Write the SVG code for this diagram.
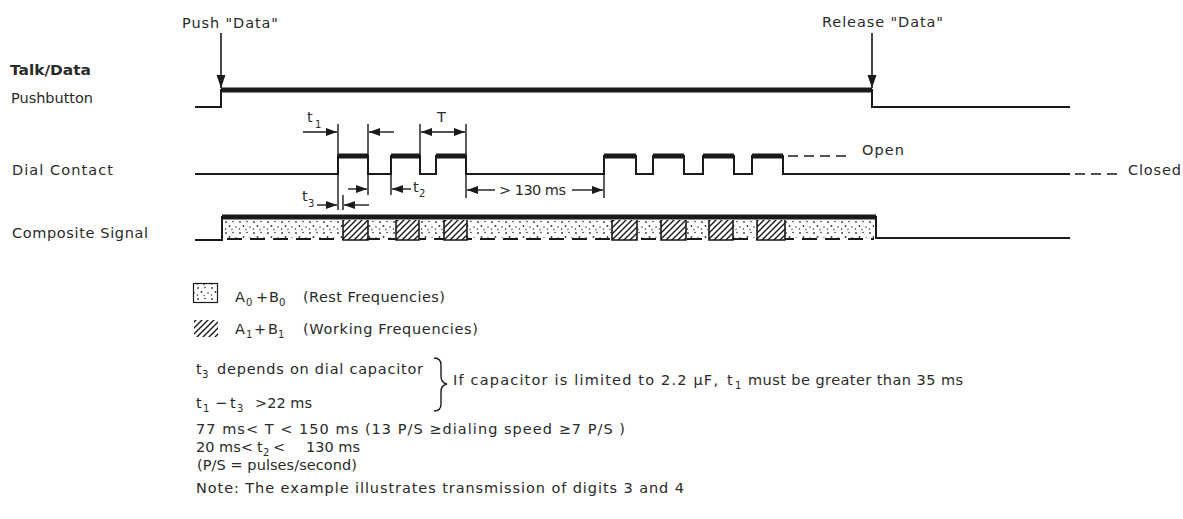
<svg xmlns="http://www.w3.org/2000/svg" width="1183" height="519" viewBox="0 0 1183 519">
<style>
text{font-family:"DejaVu Sans","Liberation Sans",sans-serif;font-size:14.5px;fill:#2a2a2a}
.sub{font-size:10px}
.bold{font-weight:bold}
.w{fill:none;stroke:#1a1a1a;stroke-width:2}
.thick{fill:none;stroke:#1a1a1a;stroke-width:5}
.tick{fill:none;stroke:#1a1a1a;stroke-width:1.4}
.arr{fill:none;stroke:#1a1a1a;stroke-width:1.4;marker-end:url(#ah)}
.big{fill:none;stroke:#1a1a1a;stroke-width:1.6;marker-end:url(#bh)}
.dash{fill:none;stroke:#1a1a1a;stroke-width:1.6;stroke-dasharray:10 6}
.hblk{fill:url(#hatch);stroke:none}
.hedge{fill:none;stroke:#1a1a1a;stroke-width:1.6}
</style>
<defs>
<marker id="ah" markerUnits="userSpaceOnUse" markerWidth="12" markerHeight="9" refX="11" refY="4" orient="auto-start-reverse">
<path d="M0,0 L11,4 L0,8 Z" fill="#1a1a1a"/>
</marker>
<marker id="bh" markerUnits="userSpaceOnUse" markerWidth="14" markerHeight="10" refX="13" refY="4.5" orient="auto">
<path d="M0,0 L13,4.5 L0,9 Z" fill="#1a1a1a"/>
</marker>
<pattern id="dots" patternUnits="userSpaceOnUse" width="14" height="11">
<rect width="14" height="11" fill="#fff"/>
<circle cx="2" cy="2" r="0.9" fill="#333"/>
<circle cx="9" cy="1.5" r="0.8" fill="#333"/>
<circle cx="5.5" cy="6" r="0.9" fill="#333"/>
<circle cx="12" cy="7" r="0.8" fill="#333"/>
<circle cx="1.5" cy="9" r="0.8" fill="#333"/>
<circle cx="8" cy="9.5" r="0.7" fill="#333"/>
</pattern>
<pattern id="hatch" patternUnits="userSpaceOnUse" width="6" height="6">
<rect width="6" height="6" fill="#fff"/>
<path d="M0,6 L6,0 M-1.5,1.5 L1.5,-1.5 M4.5,7.5 L7.5,4.5" stroke="#1a1a1a" stroke-width="1.4"/>
</pattern>
</defs>
<rect width="1183" height="519" fill="#fff"/>

<g id="labels">
<text x="182" y="28" textLength="96" lengthAdjust="spacing">Push "Data"</text>
<text x="822" y="27" textLength="121" lengthAdjust="spacing">Release "Data"</text>
<text class="bold" x="10" y="75" textLength="81" lengthAdjust="spacingAndGlyphs">Talk/Data</text>
<text x="11" y="103" textLength="82" lengthAdjust="spacing">Pushbutton</text>
<text x="12" y="175" textLength="101" lengthAdjust="spacing">Dial Contact</text>
<text x="12" y="238" textLength="136" lengthAdjust="spacing">Composite Signal</text>
</g>

<g id="pushbutton">
<path class="w" d="M195,107 H221 V90 H872 V107 H1070"/>
<path class="thick" d="M221,90 H872"/>
</g>

<g id="dial-contact">
<path class="w" d="M195,174 H338 V156 H368 V174 H391 V156 H420 V174 H436 V156 H466 V174 H604 V156 H636 V174 H653 V156 H684 V174 H703 V156 H734 V174 H752 V156 H783 V174 H1070"/>
<path class="thick" d="M338,156 H368 M391,156 H420 M436,156 H466 M604,156 H636 M653,156 H684 M703,156 H734 M752,156 H783"/>
<path class="dash" d="M788,156 H852"/>
<path class="dash" d="M1075,174 H1122"/>
<text x="862" y="155" textLength="42" lengthAdjust="spacing">Open</text>
<text x="1128" y="175" textLength="53" lengthAdjust="spacing">Closed</text>
</g>

<g id="composite-signal">
<rect x="224" y="220" width="650" height="18" fill="url(#dots)"/>
<path d="M227,239 H874" fill="none" stroke="#1a1a1a" stroke-width="1.8" stroke-dasharray="15 8"/>
<rect class="hblk" x="343" y="220" width="25" height="20"/>
<rect class="hblk" x="396" y="220" width="23" height="20"/>
<rect class="hblk" x="444" y="220" width="23" height="20"/>
<rect class="hblk" x="612" y="220" width="25" height="20"/>
<rect class="hblk" x="661" y="220" width="25" height="20"/>
<rect class="hblk" x="709" y="220" width="24" height="20"/>
<rect class="hblk" x="757" y="220" width="28" height="20"/>
<path class="hedge" d="M343,220 V240 H368 V220 M396,220 V240 H419 V220 M444,220 V240 H467 V220 M612,220 V240 H637 V220 M661,220 V240 H686 V220 M709,220 V240 H733 V220 M757,220 V240 H785 V220"/>
<path class="w" d="M195,240 H222 V217 H876 V238 H1070"/>
<path class="thick" d="M222,217 H876"/>
</g>

<g id="connectors">
<path class="big" d="M221,33 V88"/>
<path class="big" d="M872,33 V88"/>
<path class="tick" d="M338,124 V156 M338,174 V210 M368,124 V156 M368,174 V195 M420,124 V156 M466,124 V156 M466,174 V198 M343,195 V210 M391,174 V195 M604,174 V198"/>
<path class="arr" d="M303,132 H337"/>
<path class="arr" d="M394,132 H369"/>
<path class="arr" d="M421,132 H465" style="marker-start:url(#ah)"/>
<path class="arr" d="M317,205 H337"/>
<path class="arr" d="M369,205 H344"/>
<path class="arr" d="M348,189 H367"/>
<path class="arr" d="M411,189 H392"/>
<path class="arr" d="M495,190 H467"/>
<path class="arr" d="M572,190 H603"/>
</g>

<g id="annotations">
<text x="307" y="122">t<tspan class="sub" x="315" y="128">1</tspan></text>
<text x="437" y="122" font-size="15">T</text>
<text x="302" y="201">t<tspan class="sub" x="308" y="207">3</tspan></text>
<text x="413" y="192">t<tspan class="sub" x="419" y="197">2</tspan></text>
<text x="499" y="195" textLength="67" lengthAdjust="spacing">&gt; 130 ms</text>
</g>

<g id="legend">
<rect x="193.5" y="283.5" width="24" height="19" fill="url(#dots)" stroke="#1a1a1a" stroke-width="1.2"/>
<rect x="194" y="320" width="24" height="17" fill="url(#hatch)"/>
<text x="235" y="302">A<tspan class="sub" x="246" y="306">0</tspan><tspan x="256" y="302">+</tspan><tspan x="269" y="302">B</tspan><tspan class="sub" x="279" y="306">0</tspan></text>
<text x="303" y="302" textLength="142" lengthAdjust="spacing">(Rest Frequencies)</text>
<text x="235" y="334">A<tspan class="sub" x="246" y="338">1</tspan><tspan x="254" y="334">+</tspan><tspan x="268" y="334">B</tspan><tspan class="sub" x="278" y="338">1</tspan></text>
<text x="303" y="334" textLength="175" lengthAdjust="spacing">(Working Frequencies)</text>
</g>

<g id="notes">
<text x="196" y="374">t<tspan class="sub" x="202" y="378">3</tspan></text>
<text x="217" y="374" textLength="206" lengthAdjust="spacing">depends on dial capacitor</text>
<text x="196" y="408">t<tspan class="sub" x="203" y="412">1</tspan><tspan x="215" y="408">−</tspan><tspan x="230" y="408">t</tspan><tspan class="sub" x="237" y="412">3</tspan></text>
<text x="255" y="408" textLength="57" lengthAdjust="spacing">&gt;22 ms</text>
<path d="M434,358 Q441,358 441,365 V376 Q441,383 447,384 Q441,385 441,392 V404 Q441,411 434,411" fill="none" stroke="#1a1a1a" stroke-width="1.4"/>
<text x="453" y="385" textLength="265" lengthAdjust="spacing">If capacitor is limited to 2.2 μF,</text>
<text x="727" y="385">t<tspan class="sub" x="735" y="389">1</tspan></text>
<text x="748" y="385" textLength="215" lengthAdjust="spacing">must be greater than 35 ms</text>
<text x="196" y="434" textLength="429" lengthAdjust="spacing">77 ms&lt; T &lt;  150 ms (13 P/S  ≥dialing speed ≥7 P/S )</text>
<text x="196" y="452">20 ms&lt;<tspan x="257" y="452">t</tspan><tspan class="sub" x="263" y="456">2</tspan><tspan x="273" y="452">&lt;</tspan><tspan x="306" y="452">130 ms</tspan></text>
<text x="197" y="470" textLength="160" lengthAdjust="spacing">(P/S = pulses/second)</text>
<text x="196" y="493" textLength="488" lengthAdjust="spacing">Note:  The example illustrates transmission of digits 3 and 4</text>
</g>
</svg>
